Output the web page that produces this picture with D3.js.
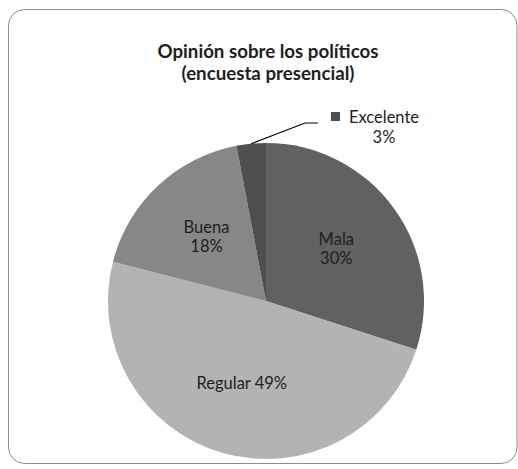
<!DOCTYPE html>
<html>
<head>
<meta charset="utf-8">
<script src="https://cdn.jsdelivr.net/npm/d3@7"></script>
<style>
  body { margin: 0; background: #fff; }
  text { font-family: Lato, "Open Sans", sans-serif; fill: #1e1e1e; }
</style>
</head>
<body>
<svg width="518" height="469"></svg>
<script>
var categories = ['Mala', 'Regular', 'Buena', 'Excelente'];
var values = [30, 49, 18, 3];
var titleLines = ['Opinión sobre los políticos', '(encuesta presencial)'];

var svg = d3.select('svg');

// chart frame
svg.append('rect')
  .attr('x', 8.5).attr('y', 9.5)
  .attr('width', 508.5).attr('height', 454)
  .attr('rx', 16)
  .attr('fill', '#fff')
  .attr('stroke', '#8c8c8c')
  .attr('stroke-width', 1);

svg.selectAll('text.title')
  .data(titleLines)
  .enter()
  .append('text')
    .attr('class', 'title')
    .attr('x', 268)
    .attr('y', (d, i) => 58 + i * 22)
    .attr('text-anchor', 'middle')
    .style('font-size', '18.7px')
    .style('font-weight', 'bold')
    .text(d => d);

var cx = 266, cy = 301, radius = 158;

var color = d3.scaleOrdinal()
  .domain(categories)
  .range(['#616161', '#b3b3b3', '#878787', '#4f4f4f']);

var data = categories.map((c, i) => ({name: c, value: values[i]}));

var pie = d3.pie().sort(null).value(d => d.value);
var arc = d3.arc().innerRadius(0).outerRadius(radius);
var arcs = pie(data);

var g = svg.append('g').attr('transform', `translate(${cx},${cy})`);

g.selectAll('path')
  .data(arcs)
  .enter()
  .append('path')
    .attr('d', arc)
    .attr('fill', d => color(d.data.name));

// labels inside the slices
var labelArc = d3.arc().innerRadius(radius * 0.55).outerRadius(radius * 0.55);
var inner = arcs.filter(d => d.data.name !== 'Excelente');

var labels = g.selectAll('text.lbl')
  .data(inner)
  .enter()
  .append('text')
    .attr('class', 'lbl')
    .attr('text-anchor', 'middle')
    .style('font-size', '16.5px')
    .attr('transform', d => `translate(${labelArc.centroid(d)})`);

labels.each(function(d) {
  var t = d3.select(this);
  var pct = d.data.value + '%';
  if (d.data.name === 'Regular') {
    t.append('tspan').attr('x', 0).attr('y', 5).text(d.data.name + ' ' + pct);
  } else {
    t.append('tspan').attr('x', 0).attr('y', -5).text(d.data.name);
    t.append('tspan').attr('x', 0).attr('y', 14).text(pct);
  }
});

// outside label with leader line for the small slice
var small = arcs.find(d => d.data.name === 'Excelente');
var mid = (small.startAngle + small.endAngle) / 2;
var p0 = [Math.sin(mid) * radius, -Math.cos(mid) * radius];
var lx = 52, ly = -178;
g.append('polyline')
  .attr('points', [p0, [lx - 13, ly], [lx, ly]].map(p => p.join(',')).join(' '))
  .attr('fill', 'none')
  .attr('stroke', '#000')
  .attr('stroke-width', 1.2);

g.append('rect')
  .attr('x', lx + 13).attr('y', ly - 11)
  .attr('width', 9).attr('height', 9)
  .attr('fill', color('Excelente'));

var outer = g.append('text')
  .attr('text-anchor', 'middle')
  .style('font-size', '16.5px');
outer.append('tspan').attr('x', lx + 66).attr('y', ly).text(small.data.name);
outer.append('tspan').attr('x', lx + 66).attr('y', ly + 20).text(small.data.value + '%');
</script>
</body>
</html>
